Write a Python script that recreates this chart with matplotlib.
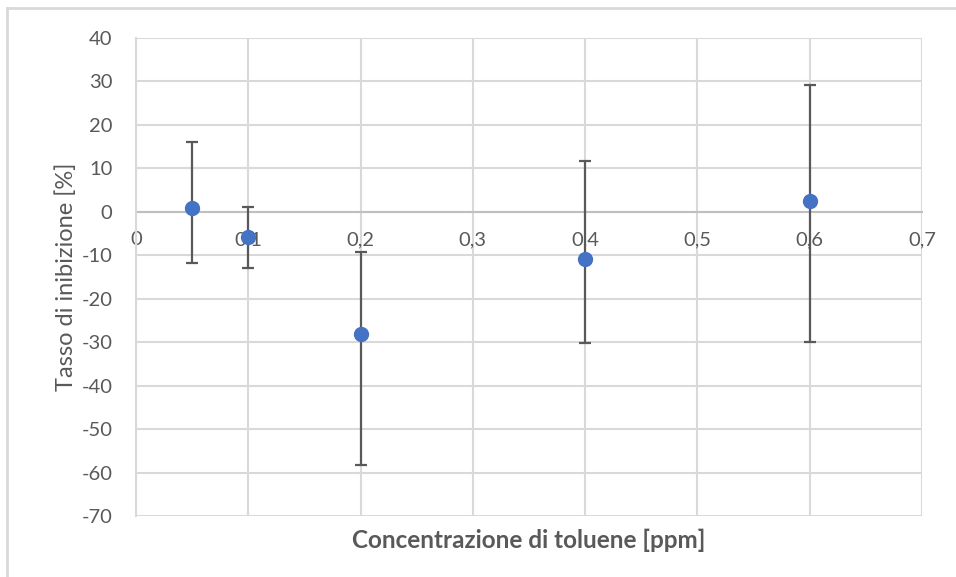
import matplotlib.pyplot as plt
from matplotlib.lines import Line2D
from matplotlib.ticker import FuncFormatter

# data
conc = [0.05, 0.1, 0.2, 0.4, 0.6]
inib = [0.9, -5.8, -28.1, -10.9, 2.5]
err_top = [16.0, 1.1, -9.2, 11.6, 29.2]
err_bot = [-11.8, -13.0, -58.3, -30.2, -30.0]

yerr_low = [v - b for v, b in zip(inib, err_bot)]
yerr_high = [t - v for v, t in zip(inib, err_top)]

plt.rcParams['font.family'] = ['Lato', 'DejaVu Sans']
plt.rcParams['axes.unicode_minus'] = False
txt = '#595959'

fig = plt.figure(figsize=(9.56, 5.77), dpi=100)
ax = fig.add_axes([136/956, 1 - 516/577, (922-136)/956, (516-38)/577])

ax.errorbar(conc, inib, yerr=[yerr_low, yerr_high], fmt='none',
            ecolor='#595959', elinewidth=1.6, capsize=4.5, capthick=1.6, zorder=3)
ax.plot(conc, inib, 'o', color='#4472C4', markersize=10, zorder=4)

ax.set_xlim(0, 0.7)
ax.set_ylim(-70, 40)
ax.set_xticks([i/10 for i in range(8)])
ax.set_yticks(range(-70, 41, 10))
ax.xaxis.set_major_formatter(FuncFormatter(lambda v, p: f'{v:g}'.replace('.', ',')))

ax.grid(True, color='#d9d9d9', linewidth=1.5, zorder=0)
ax.set_axisbelow(True)
for s in ['top', 'right']:
    ax.spines[s].set_visible(False)
ax.spines['left'].set_color('#d9d9d9')
ax.spines['left'].set_linewidth(1.5)
ax.spines['bottom'].set_position(('data', 0))
ax.spines['bottom'].set_color('#bfbfbf')
ax.spines['bottom'].set_linewidth(1.5)
ax.spines['bottom'].set_zorder(1)
ax.tick_params(length=0, labelsize=14.5, labelcolor=txt)
ax.tick_params(axis='x', pad=14)
ax.tick_params(axis='y', pad=17)

ax.set_ylabel('Tasso di inibizione [%]', fontsize=17, color=txt, labelpad=3)
fig.text(529/956, 1 - 540/577, 'Concentrazione di toluene [ppm]', fontsize=17.5,
         color=txt, fontweight='bold', ha='center', va='center')

# chart frame
fig.add_artist(Line2D([7/956, 7/956], [0, 1 - 8/577], transform=fig.transFigure,
                      color='#d9d9d9', linewidth=2))
fig.add_artist(Line2D([7/956, 1], [1 - 8/577, 1 - 8/577], transform=fig.transFigure,
                      color='#d9d9d9', linewidth=2))

fig.savefig('out.png', dpi=100)
